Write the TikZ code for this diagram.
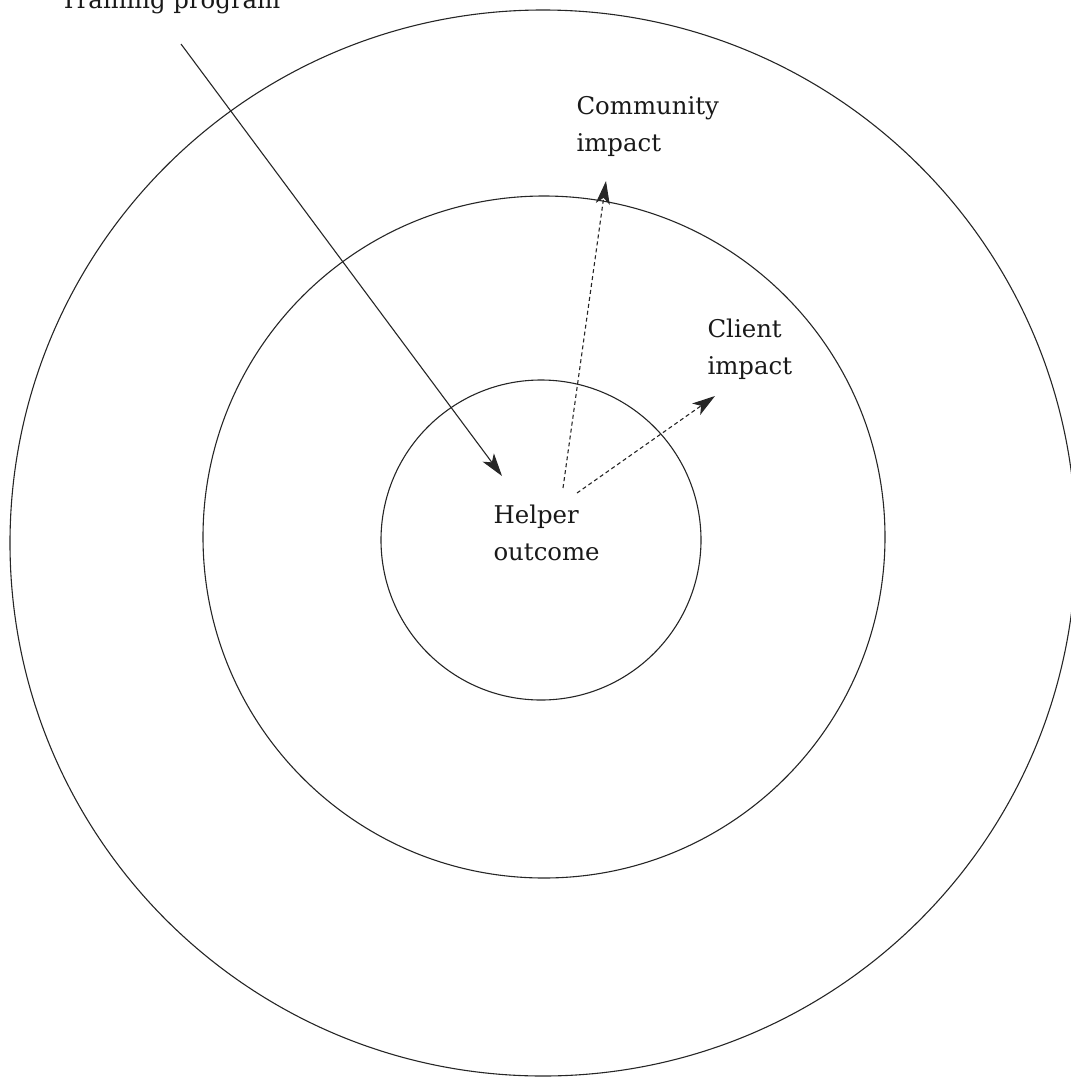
\documentclass[tikz,border=0pt]{standalone}
\usepackage{fontspec}
\setmainfont{DejaVu Serif}
\usetikzlibrary{arrows.meta}

\begin{document}
\begin{tikzpicture}[x=0.5pt,y=-0.5pt,line width=0.55pt,
	ring/.style={draw=black!85},
	label/.style={font=\fontsize{12.2}{18.5}\selectfont,text=black!90,inner sep=0pt,align=left,anchor=base west},
	link/.style={draw=black!85,-{Stealth[length=11.5pt,width=7pt,inset=3pt]}},
	dlink/.style={link,dash pattern=on 2pt off 1.5pt}]
	\path[use as bounding box,clip] (0,0) rectangle (1071,1077);
	\path[ring] (543,543) circle[radius=533] (544,537) circle[radius=341] (541,540) circle[radius=160];
%	labels (base = last line)
	\node[label] (training) at (60,8) {Training program};
	\node[label] (community) at (576,151) {Community\\impact};
	\node[label] (client) at (707,374) {Client\\impact};
	\node[label] (helper) at (493,560) {Helper\\outcome};
	\coordinate (tp) at (181,44);
	\coordinate (ho) at (502,476);
	\coordinate (hc) at (563,488);
	\coordinate (ci) at (606,181);
	\coordinate (hl) at (577,493);
	\coordinate (cl) at (715,396);
	\path[link] (tp) -- (ho);
	\path[dlink] (hc) -- (ci);
	\path[dlink] (hl) -- (cl);
\end{tikzpicture}
\end{document}
